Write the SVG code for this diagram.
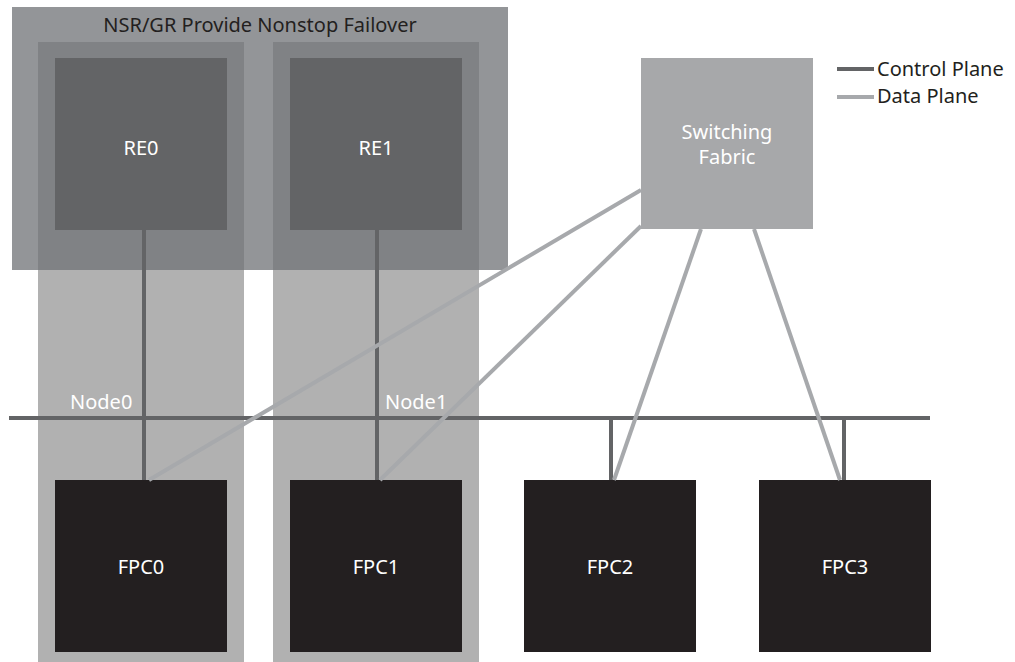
<svg xmlns="http://www.w3.org/2000/svg" width="1015" height="662" viewBox="0 0 1015 662">
<style>
.t{font-family:"Noto Sans","Liberation Sans",Arial,sans-serif;font-size:20px}
.w{fill:#ffffff}
.d{fill:#231f20}
.cp{stroke:#636466;stroke-width:4;fill:none}
.dp{stroke:#a7a9ac;stroke-width:4;fill:none}
.col{fill:#b1b1b1}
.colTop{fill:#808285}
.re{fill:#636466}
.fpc{fill:#231f20}
</style>
<rect width="1015" height="662" fill="#ffffff"/>
<g id="node0-column">
<rect class="col" x="38" y="42" width="206" height="620"/>
</g>
<g id="node1-column">
<rect class="col" x="273" y="42" width="206" height="620"/>
</g>
<g id="nsr-group">
<rect x="12" y="7" width="496" height="263" fill="#939598"/>
<rect class="colTop" x="38" y="42" width="206" height="228"/>
<rect class="colTop" x="273" y="42" width="206" height="228"/>
<text class="t d" x="260" y="32" text-anchor="middle">NSR/GR Provide Nonstop Failover</text>
</g>
<g id="re0">
<rect class="re" x="55" y="58" width="172" height="172"/>
<text class="t w" x="141" y="155" text-anchor="middle">RE0</text>
</g>
<g id="re1">
<rect class="re" x="290" y="58" width="172" height="172"/>
<text class="t w" x="376" y="155" text-anchor="middle">RE1</text>
</g>
<g id="switching-fabric">
<rect x="641" y="58" width="172" height="171" fill="#a7a8aa"/>
<text class="t w" x="727" y="139" text-anchor="middle">Switching</text>
<text class="t w" x="727" y="164" text-anchor="middle">Fabric</text>
</g>
<g id="fpc0">
<rect class="fpc" x="55" y="480" width="172" height="172"/>
<text class="t w" x="141" y="574" text-anchor="middle">FPC0</text>
</g>
<g id="fpc1">
<rect class="fpc" x="290" y="480" width="172" height="172"/>
<text class="t w" x="376" y="574" text-anchor="middle">FPC1</text>
</g>
<g id="fpc2">
<rect class="fpc" x="524" y="480" width="172" height="172"/>
<text class="t w" x="610" y="574" text-anchor="middle">FPC2</text>
</g>
<g id="fpc3">
<rect class="fpc" x="759" y="480" width="172" height="172"/>
<text class="t w" x="845" y="574" text-anchor="middle">FPC3</text>
</g>
<g id="connectors">
<line class="cp" x1="9" y1="418" x2="930" y2="418"/>
<line class="cp" x1="144" y1="230" x2="144" y2="480"/>
<line class="cp" x1="377" y1="230" x2="377" y2="480"/>
<line class="cp" x1="611" y1="418" x2="611" y2="480"/>
<line class="cp" x1="844" y1="418" x2="844" y2="480"/>
<line class="dp" x1="641" y1="190" x2="149" y2="480"/>
<line class="dp" x1="641" y1="226" x2="380" y2="480"/>
<line class="dp" x1="701" y1="229" x2="614" y2="480"/>
<line class="dp" x1="754" y1="229" x2="840" y2="480"/>
</g>
<g id="labels">
<text class="t w" x="70" y="409">Node0</text>
<text class="t w" x="385" y="409">Node1</text>
</g>
<g id="legend">
<line class="cp" x1="837" y1="69" x2="874" y2="69"/>
<line class="dp" x1="837" y1="97" x2="874" y2="97"/>
<text class="t d" x="877" y="76">Control Plane</text>
<text class="t d" x="877" y="103">Data Plane</text>
</g>
</svg>
